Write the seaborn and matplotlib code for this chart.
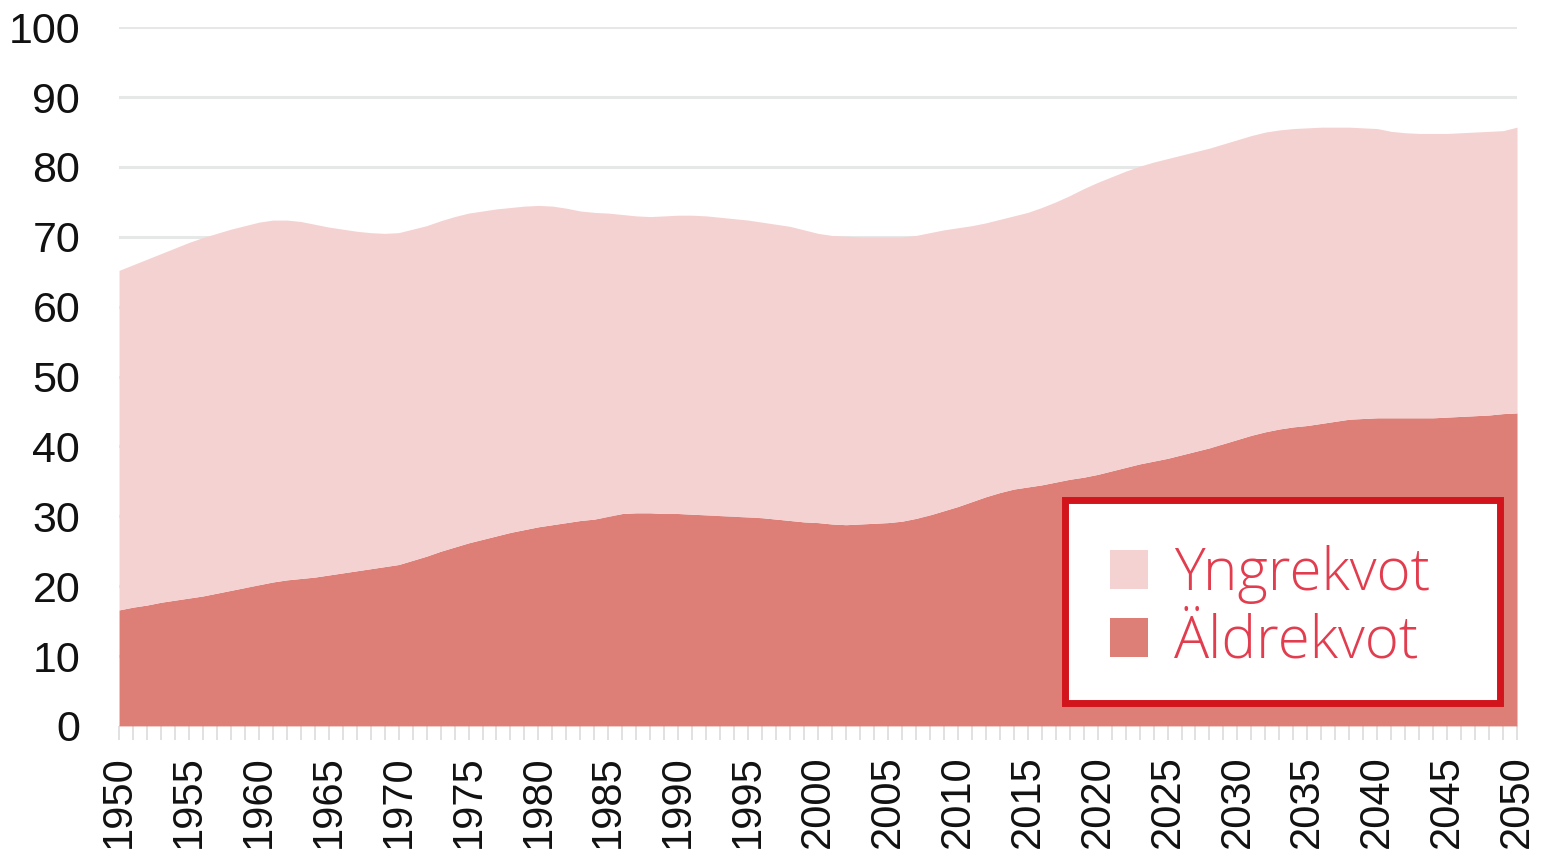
import numpy as np
import pandas as pd
import seaborn as sns
import matplotlib.pyplot as plt
from matplotlib.patches import Patch, Rectangle
from matplotlib.ticker import MultipleLocator

# Data (1950-2050, yearly)
years = list(range(1950, 2051))

aldrekvot = [
    16.6, 17.0, 17.3, 17.7, 18.0, 18.3, 18.6, 19.0, 19.4, 19.8,
    20.2, 20.6, 20.9, 21.1, 21.3, 21.6, 21.9, 22.2, 22.5, 22.8,
    23.1, 23.7, 24.3, 25.0, 25.6, 26.2, 26.7, 27.2, 27.7, 28.1,
    28.5, 28.8, 29.1, 29.4, 29.6, 30.0, 30.4, 30.5, 30.5, 30.4,
    30.4, 30.3, 30.2, 30.1, 30.0, 29.9, 29.8, 29.6, 29.4, 29.2,
    29.1, 28.9, 28.8, 28.9, 29.0, 29.1, 29.3, 29.7, 30.2, 30.8,
    31.4, 32.1, 32.8, 33.4, 33.9, 34.2, 34.5, 34.9, 35.3, 35.6,
    36.0, 36.5, 37.0, 37.5, 37.9, 38.3, 38.8, 39.3, 39.8, 40.4,
    41.0, 41.6, 42.1, 42.5, 42.8, 43.0, 43.3, 43.6, 43.9, 44.0,
    44.1, 44.1, 44.1, 44.1, 44.1, 44.2, 44.3, 44.4, 44.5, 44.7,
    44.8,
]

yngrekvot = [
    48.6, 49.0, 49.5, 49.9, 50.4, 50.9, 51.3, 51.5, 51.7, 51.8,
    51.9, 51.8, 51.5, 51.1, 50.5, 49.8, 49.2, 48.6, 48.1, 47.7,
    47.5, 47.4, 47.3, 47.3, 47.3, 47.2, 47.0, 46.8, 46.5, 46.3,
    46.0, 45.6, 45.0, 44.3, 43.9, 43.4, 42.8, 42.5, 42.4, 42.6,
    42.7, 42.8, 42.8, 42.7, 42.6, 42.5, 42.3, 42.2, 42.1, 41.8,
    41.4, 41.3, 41.3, 41.1, 41.0, 40.9, 40.7, 40.5, 40.4, 40.2,
    39.9, 39.5, 39.2, 39.1, 39.1, 39.3, 39.7, 40.1, 40.6, 41.3,
    41.8, 42.1, 42.4, 42.6, 42.8, 42.9, 42.9, 42.9, 42.9, 42.9,
    42.9, 42.9, 42.9, 42.8, 42.7, 42.6, 42.4, 42.1, 41.8, 41.6,
    41.4, 41.0, 40.8, 40.7, 40.7, 40.6, 40.6, 40.6, 40.6, 40.5,
    40.9,
]

df = pd.DataFrame({"year": years, "Äldrekvot": aldrekvot, "Yngrekvot": yngrekvot})

light = "#f4d2d1"
dark = "#dd7e77"

sns.set_theme(style="white")
plt.rcParams["font.family"] = ["Liberation Sans", "DejaVu Sans"]

fig = plt.figure(figsize=(15.42, 8.52), dpi=100)
ax = fig.add_axes([0.0772, 0.148, 0.9066, 0.820])

ax.stackplot(df["year"], df["Äldrekvot"], df["Yngrekvot"],
             colors=[dark, light], linewidth=0, zorder=2)

ax.set_xlim(1950, 2050)
ax.set_ylim(0, 100)
ax.yaxis.set_major_locator(MultipleLocator(10))
ax.xaxis.set_major_locator(MultipleLocator(5))
ax.xaxis.set_minor_locator(MultipleLocator(1))

ax.grid(axis="y", color="#e6e8e8", linewidth=2.2, zorder=0)
ax.set_axisbelow(True)
for s in ax.spines.values():
    s.set_visible(False)

ax.tick_params(axis="y", length=0, pad=28, labelsize=31, labelcolor="#111111")
ax.tick_params(axis="x", which="both", bottom=True, length=10, width=1.2,
               color="#dcdcdc", direction="out")
ax.tick_params(axis="x", which="major", labelsize=30, labelcolor="#111111",
               labelrotation=90, pad=11)

# legend box (red frame, drawn separately to get the uneven padding)
box = Rectangle((0.6767, 0.033), 0.3112, 0.2904, transform=ax.transAxes,
                facecolor="white", edgecolor="#d2151d", linewidth=5, zorder=5)
ax.add_patch(box)

handles = [Patch(facecolor=light, edgecolor="none", label="Yngrekvot"),
           Patch(facecolor=dark, edgecolor="none", label="Äldrekvot")]
leg = ax.legend(handles=handles, loc="center left", bbox_to_anchor=(0.7089, 0.168),
                borderaxespad=0, borderpad=0, frameon=False,
                handlelength=0.65, handleheight=0.65, handletextpad=0.45,
                labelspacing=0.14, labelcolor="#e23d4f",
                prop={"family": ["Open Sans", "DejaVu Sans"], "weight": "light", "size": 42})
leg.set_zorder(6)

fig.savefig("out.png", dpi=100)
